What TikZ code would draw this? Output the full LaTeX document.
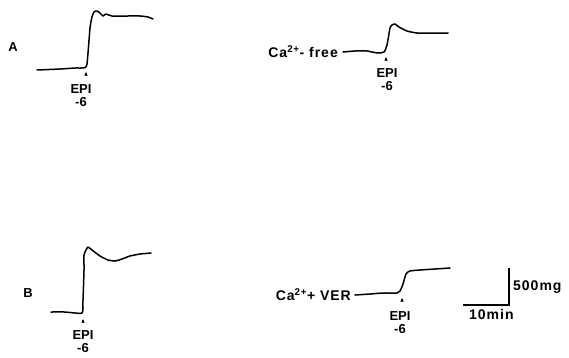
\documentclass[tikz,border=0pt]{standalone}
\usepackage{fontspec}
\setmainfont{Liberation Sans}
\usetikzlibrary{positioning, arrows.meta}
\tikzset{
  trace/.style={line width=1.5pt, line join=round, line cap=round},
  lbl/.style={font=\fontsize{13}{13}\selectfont\bfseries, inner sep=0pt},
  widelbl/.style={lbl, font=\fontsize{14}{14}\selectfont\bfseries\addfontfeature{LetterSpace=7}},
  tick/.style={line width=0.6pt, -{Triangle[length=3.5pt, width=3pt]}},
  scalebar/.style={line width=1.6pt}
}
\begin{document}
\begin{tikzpicture}[x=1pt, y=-1pt]
\useasboundingbox (0,0) rectangle (569,357);

\node[lbl] (panela) at (13,47) {A};
\node[lbl] (panelb) at (28,293) {B};

\draw[trace] plot[smooth, tension=0.4] coordinates {(37,70) (60,69) (75,68) (86,67) (88,53) (90,28) (92,17) (94,12) (97,11) (100,13) (103,16) (106,14) (112,16) (127,16) (140,16) (148,17) (153,19)};
\coordinate (inja) at (86,76);
\draw[tick] (inja) -- ++(0,-4);
\node[lbl, below=8pt of inja, xshift=-5pt] (epia) {EPI};
\node[lbl, below=4pt of epia] (dosea) {-6};

\coordinate (freestart) at (343,52);
\node[widelbl, left=5pt of freestart] (free) {Ca\textsuperscript{2+}- free};
\draw[trace] plot[smooth, tension=0.4] coordinates {(343,52) (355,51) (367,51) (372,52) (378,53) (384,52) (387,45) (390,28) (392,25) (395,24) (399,27) (407,31) (417,33) (430,33) (448,33)};
\coordinate (injf) at (386,61);
\draw[tick] (injf) -- ++(0,-4);
\node[lbl, below=7pt of injf, xshift=1pt] (epif) {EPI};
\node[lbl, below=4pt of epif] (dosef) {-6};

\draw[trace] plot[smooth, tension=0.3] coordinates {(51,312) (65,312) (82,313) (83,300) (84,270) (84,255) (86,250) (88,247) (92,250) (100,256) (108,260) (115,261) (122,259) (130,256) (140,254) (151,253)};
\coordinate (injb) at (83,323);
\draw[tick] (injb) -- ++(0,-4);
\node[lbl, below=7pt of injb] (epib) {EPI};
\node[lbl, below=4pt of epib] (doseb) {-6};

\coordinate (verstart) at (355,295);
\node[widelbl, left=4pt of verstart] (ver) {Ca\textsuperscript{2+}+ VER};
\draw[trace] plot[smooth, tension=0.4] coordinates {(355,295) (370,294) (383,293) (397,293) (400,291) (403,284) (406,274) (410,271) (420,270) (435,269) (450,268)};
\coordinate (injv) at (402,302);
\draw[tick] (injv) -- ++(0,-4);
\node[lbl, below=9pt of injv, xshift=-2pt] (epiv) {EPI};
\node[lbl, below=4pt of epiv] (dosev) {-6};

\coordinate (barleft) at (463,305);
\coordinate (barcorner) at (509,305);
\coordinate (bartop) at (509,268);
\draw[scalebar] (barleft) -- (barcorner) -- (bartop);
\node[widelbl, right=4pt of barcorner, yshift=18pt] (mass) {500mg};
\node[widelbl, below=4pt of barleft, anchor=north west, xshift=6pt] (time) {10min};
\end{tikzpicture}
\end{document}
